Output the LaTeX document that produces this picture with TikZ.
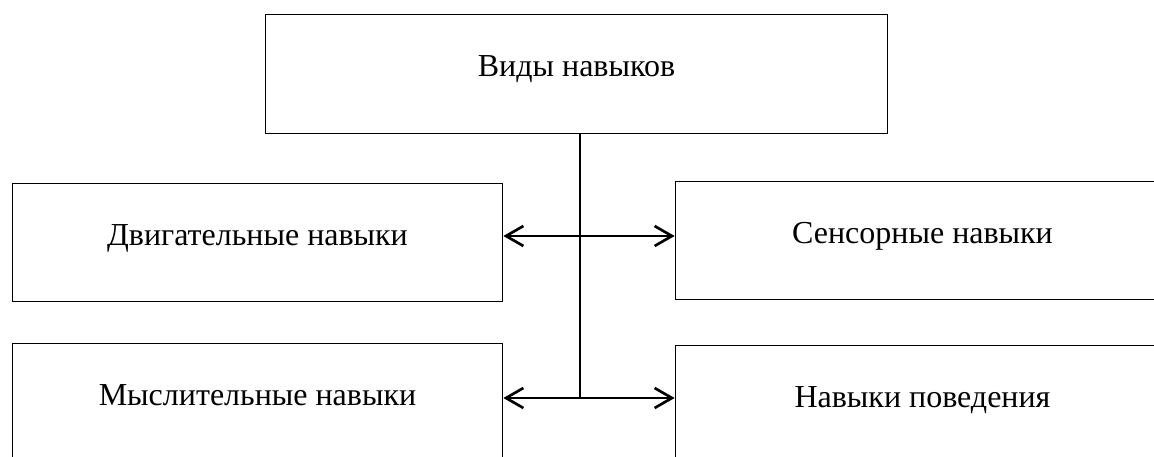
\documentclass[tikz,border=0pt]{standalone}
\usepackage{fontspec}
\setmainfont{Liberation Serif}
\usetikzlibrary{arrows.meta}
\tikzset{
    box/.style={draw, line width=0.8pt, minimum width=#1, minimum height=89pt, inner sep=0pt, text height=14pt, text depth=10pt, font=\fontsize{24}{29}\selectfont},
    box/.default=368pt,
    link/.style={line width=2pt, {Straight Barb[length=13pt,width=15pt]}-{Straight Barb[length=13pt,width=15pt]}}
}
\begin{document}
\begin{tikzpicture}[x=0.75pt,y=-0.75pt]
            \useasboundingbox (0,0) rectangle (1154,457);
            \clip (0,0) rectangle (1154,457);
            \node[box=467pt] (types) at (576.5,74) {Виды навыков};
            \node[box] (motor) at (257.5,242.5) {Двигательные навыки};
            \node[box=371pt] (sensor) at (922.5,240.5) {Сенсорные навыки};
            \node[box] (mental) at (257.5,402.5) {Мыслительные навыки};
            \node[box=371pt] (behav) at (922.5,404.5) {Навыки поведения};
            \coordinate (j1) at (580,236);
            \coordinate (j2) at (580,398);
            \draw[line width=1.5pt] (types.south -| j1) -- (j2);
            \foreach \j in {j1,j2}
                \draw[link] (\j -| motor.east) -- (\j -| sensor.west);
        \end{tikzpicture}
\end{document}
